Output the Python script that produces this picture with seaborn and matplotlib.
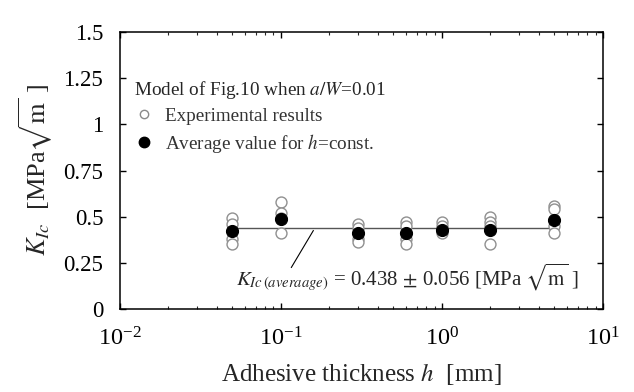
import numpy as np
import pandas as pd
import matplotlib
matplotlib.use("Agg")
import matplotlib.pyplot as plt
import seaborn as sns
from matplotlib.lines import Line2D
from matplotlib.ticker import LogLocator, NullFormatter

# datos
espesor = [0.05, 0.1, 0.3, 0.6, 1.0, 2.0, 5.0]
exp_kic = [
    [0.49, 0.46, 0.38, 0.35],
    [0.58, 0.52, 0.49, 0.41],
    [0.46, 0.44, 0.38, 0.36],
    [0.47, 0.45, 0.38, 0.35],
    [0.47, 0.45, 0.42, 0.41],
    [0.50, 0.47, 0.45, 0.35],
    [0.56, 0.54, 0.45, 0.41],
]
prom_kic = [0.42, 0.485, 0.41, 0.41, 0.43, 0.43, 0.48]
kic_medio = 0.438
y_ticks = [0, 0.25, 0.5, 0.75, 1, 1.25, 1.5]
y_ticklabels = ["0", "0.25", "0.5", "0.75", "1", "1.25", "1.5"]

df_exp = pd.DataFrame(
    [(h, k) for h, ks in zip(espesor, exp_kic) for k in ks], columns=["h", "kic"]
)
df_prom = pd.DataFrame({"h": espesor, "kic": prom_kic})

sns.set_theme(style="ticks")
plt.rcParams.update({
    "font.family": ["Liberation Serif", "DejaVu Serif"],
    "mathtext.fontset": "stix",
    "axes.linewidth": 1.1,
    "xtick.direction": "in",
    "ytick.direction": "in",
    "xtick.top": True,
    "ytick.right": True,
})

fig = plt.figure(figsize=(6.34, 3.92), dpi=100)
ax = fig.add_axes([0.189, 0.212, 0.762, 0.706])

ax.plot([espesor[0], espesor[-1]], [kic_medio, kic_medio], color="#555555", lw=1.0, zorder=1)
sns.scatterplot(data=df_exp, x="h", y="kic", ax=ax, marker="o", s=62,
                facecolor="white", edgecolor="#909090", linewidth=1.0, zorder=2, legend=False)
sns.scatterplot(data=df_prom, x="h", y="kic", ax=ax, marker="o", s=75,
                color="black", edgecolor="black", linewidth=0.8, zorder=3, legend=False)

ax.set_xscale("log")
ax.set_xlim(0.01, 10)
ax.set_ylim(0, 1.5)
ax.set_yticks(y_ticks)
ax.set_yticklabels(y_ticklabels)
ax.xaxis.set_minor_locator(LogLocator(base=10, subs=np.arange(2, 10)))
ax.xaxis.set_minor_formatter(NullFormatter())
ax.tick_params(which="major", length=4, width=1.0, colors="black")
ax.tick_params(axis="y", which="major", labelsize=16.5, pad=12)
ax.tick_params(axis="x", which="major", labelsize=17.5, pad=13)
ax.tick_params(which="minor", length=2.5, width=0.8)
for s in ax.spines.values():
    s.set_color("black")

ax.set_xlabel(r"Adhesive thickness $h$  [mm]", fontsize=18, labelpad=8)
ax.set_ylabel(r"$K_{Ic}$  [MPa$\sqrt{\mathrm{m}}$ ]", fontsize=19, labelpad=6)

# anotacion del valor medio
ax.annotate("", xy=(0.1625, kic_medio), xytext=(0.1137, 0.211),
            arrowprops=dict(arrowstyle="-", color="black", lw=0.8))
ax.text(0.053, 0.13, r"$K_{Ic\,(averaage)}$ = 0.438 $\pm$ 0.056 [MPa $\sqrt{\mathrm{m}}$ ]",
        fontsize=15, va="baseline", ha="left")

handles = [
    Line2D([], [], ls="none", marker="o", ms=6, mfc="white", mec="#8a8a8a", mew=1.0,
           label="Experimental results"),
    Line2D([], [], ls="none", marker="o", ms=7.5, mfc="black", mec="black",
           label=r"Average value for $h$=const."),
]
leg = ax.legend(handles=handles, loc="upper left", bbox_to_anchor=(-0.01, 0.9),
                title=r"Model of Fig.10 when $a/W$=0.01", title_fontsize=13.8,
                fontsize=13.8, frameon=False, alignment="left",
                handletextpad=0.6, handlelength=1.0, labelspacing=0.35, borderaxespad=0.6)
for t in leg.get_texts():
    t.set_color("#333333")

fig.savefig("out.png", dpi=100)
